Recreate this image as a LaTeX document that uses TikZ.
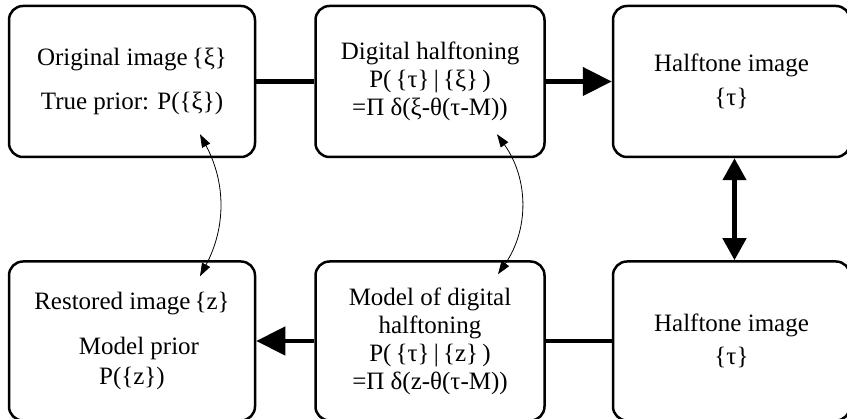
\documentclass[tikz,border=0pt]{standalone}
\usepackage{fontspec}
\setmainfont{Liberation Serif}
\usetikzlibrary{positioning,calc,arrows.meta}

\begin{document}
\begin{tikzpicture}[x=1pt, y=1pt,
    box/.style={draw, line width=2.5pt, rounded corners=14pt, align=center,
        font=\fontsize{25}{28}\selectfont, inner sep=0pt},
    flow/.style={line width=4.5pt},
    bigtip/.style={-{Triangle[length=29pt,width=28pt]}},
    link/.style={line width=0.8pt, {Triangle[length=13pt,width=9pt]}-{Triangle[length=13pt,width=9pt]}}]
    \useasboundingbox (0,0) rectangle (847,419);

    % Top row
    \node[box, minimum width=246pt, minimum height=151pt] (orig) at (132,337.5)
        {Original image\,\{ξ\}\\[16pt]True prior: P(\{ξ\})};
    \node[box, minimum width=229pt, minimum height=151pt, right=58pt of orig] (digital)
        {Digital halftoning\\P(\,\{τ\}\,|\,\{ξ\}\,)\\=Π δ(ξ-θ(τ-M))};
    \node[box, minimum width=237pt, minimum height=151pt, right=66pt of digital] (htop)
        {\raisebox{-4pt}{Halftone image}\\[10pt]\{τ\}};

    % Bottom row
    \node[box, minimum width=246pt, minimum height=159pt, below=102pt of orig] (restored)
        {Restored image\,\{z\}\\[17pt]\hspace*{14pt}Model prior\\[2pt]P(\{z\})};
    \node[box, minimum width=229pt, minimum height=159pt, below=102pt of digital] (model)
        {Model of digital\\halftoning\\P(\,\{τ\}\,|\,\{z\}\,)\\=Π δ(z-θ(τ-M))};
    \node[box, minimum width=237pt, minimum height=159pt, below=102pt of htop] (hbot)
        {Halftone image\\[5pt]\{τ\}};

    % Thick connectors
    \draw[flow] (orig.east) -- (digital.west);
    \draw[flow, bigtip] (digital.east) -- (htop.west);
    \draw[flow, {Triangle[length=22pt,width=23pt]}-{Triangle[length=22pt,width=23pt]}]
        ([xshift=3pt]htop.south) -- ([xshift=3pt]hbot.north);
    \draw[flow] (hbot.west) -- (model.east);
    \draw[flow, bigtip] (model.west) -- (restored.east);

    % Thin links between priors and models
    \coordinate (p1) at ([xshift=68pt,yshift=24pt]orig.south);
    \coordinate (p2) at ([xshift=68pt,yshift=-16pt]restored.north);
    \coordinate (m1) at ([xshift=67pt,yshift=24pt]digital.south);
    \coordinate (m2) at ([xshift=68pt,yshift=-14pt]model.north);
    \draw[link] (p1) to[bend left=28] (p2);
    \draw[link] (m1) to[bend left=35] (m2);
\end{tikzpicture}
\end{document}
